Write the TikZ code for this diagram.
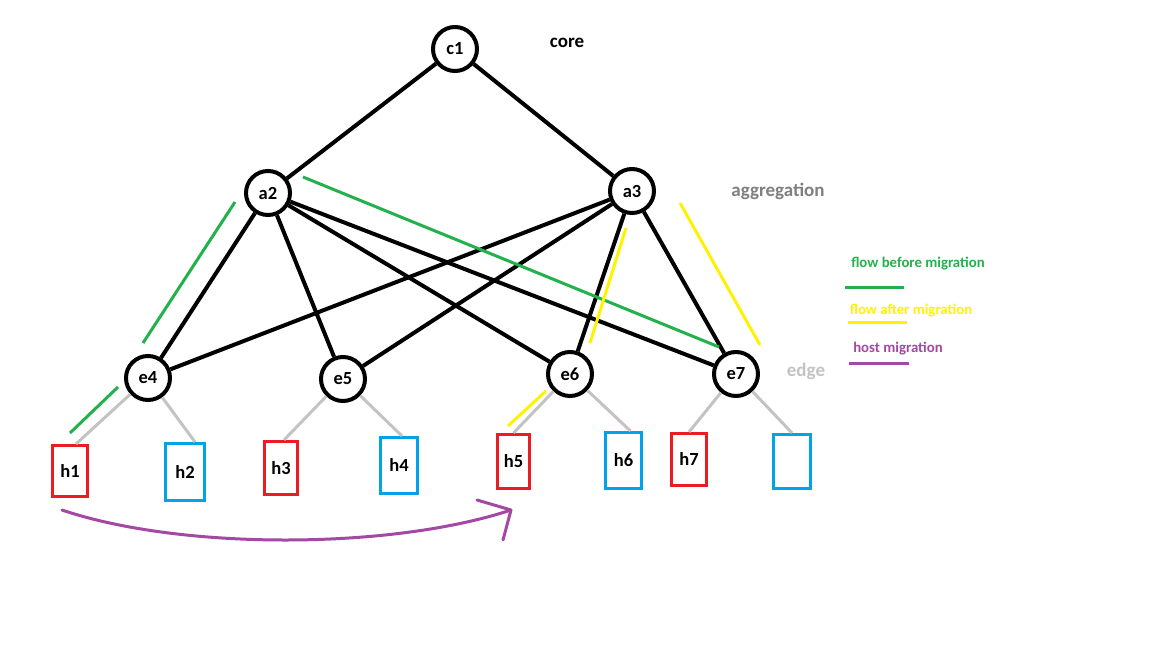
\documentclass[tikz,border=0pt]{standalone}
\usepackage{fontspec}
\setmainfont{Carlito}
\definecolor{pgreen}{HTML}{22B14C}
\definecolor{pyellow}{HTML}{FFF200}
\definecolor{pred}{HTML}{ED1C24}
\definecolor{pblue}{HTML}{00A2E8}
\definecolor{pgray}{HTML}{C3C3C3}
\definecolor{pdgray}{HTML}{7F7F7F}
\definecolor{ppurple}{HTML}{A349A4}
\begin{document}
\begin{tikzpicture}[x=1pt,y=-1pt,
  sw/.style={circle,draw=black,line width=4pt,minimum size=44pt,inner sep=0pt,font=\fontsize{18.5}{18.5}\selectfont\bfseries},
  hostr/.style={rectangle,draw=pred,line width=3pt,inner sep=0pt,font=\fontsize{18.5}{18.5}\selectfont\bfseries},
  hostb/.style={rectangle,draw=pblue,line width=3pt,inner sep=0pt,font=\fontsize{18.5}{18.5}\selectfont\bfseries},
  link/.style={line width=4pt,black},
  hlink/.style={line width=3pt,pgray},
  ann/.style={line width=3pt},
  lbl/.style={font=\fontsize{19}{19}\selectfont\bfseries,inner sep=0pt},
  leg/.style={font=\fontsize{14.8}{14.8}\selectfont\bfseries,inner sep=0pt}]
\useasboundingbox (0,0) rectangle (1152,648);
\fill[white] (0,0) rectangle (1152,648);

% switches
\node[sw] (c1) at (455,49) {c1};
\node[sw] (a2) at (268,193) {a2};
\node[sw] (a3) at (632,191) {a3};
\node[sw] (e4) at (148,378) {e4};
\node[sw] (e5) at (343,379) {e5};
\node[sw] (e6) at (570,374) {e6};
\node[sw] (e7) at (736,374) {e7};

% hosts
\node[hostr,minimum width=35pt,minimum height=51pt,text width=35pt,align=center] (h1) at (70,471) {h1\hspace*{3pt}};
\node[hostb,minimum width=39pt,minimum height=57pt] (h2) at (185,472) {h2};
\node[hostr,minimum width=33pt,minimum height=53pt] (h3) at (281,468) {h3};
\node[hostb,minimum width=37pt,minimum height=56pt] (h4) at (399,465.5) {h4};
\node[hostr,minimum width=32pt,minimum height=54pt,text width=32pt,align=center] (h5) at (513.5,461.5) {h5\hspace*{3pt}};
\node[hostb,minimum width=36pt,minimum height=56pt] (h6) at (623.5,460.5) {h6};
\node[hostr,minimum width=35pt,minimum height=52pt,text width=35pt,align=center] (h7) at (689,459.5) {h7\hspace*{6pt}};
\node[hostb,minimum width=37pt,minimum height=54pt] (h8) at (792,461.5) {};

% core/aggregation links
\draw[link] (c1) -- (a2);
\draw[link] (c1) -- (a3);
\draw[link] (a2) -- (e4);
\draw[link] (a2) -- (e5);
\draw[link] (a2) -- (e6);
\draw[link] (a2) -- (e7);
\draw[link] (a3) -- (e4);
\draw[link] (a3) -- (e5);
\draw[link] (a3) -- (e6);
\draw[link] (a3) -- (e7);

% host links
\draw[hlink] (e4) -- ([xshift=6pt]h1.north);
\draw[hlink] (e4) -- ([xshift=10pt]h2.north);
\draw[hlink] (e5) -- ([xshift=3pt]h3.north);
\draw[hlink] (e5) -- ([xshift=3pt]h4.north);
\draw[hlink] (e6) -- (h5.north);
\draw[hlink] (e6) -- ([xshift=7pt]h6.north);
\draw[hlink] (e7) -- (h7.north);
\draw[hlink] (e7) -- (h8.north);

% flow before migration (green)
\coordinate (g1a) at (235,202); \coordinate (g1b) at (143,343);
\coordinate (g2a) at (303,177); \coordinate (g2b) at (719,347);
\coordinate (g3a) at (118,387); \coordinate (g3b) at (70,433);
\draw[ann,pgreen] (g1a) -- (g1b);
\draw[ann,pgreen] (g2a) -- (g2b);
\draw[ann,pgreen] (g3a) -- (g3b);

% flow after migration (yellow)
\coordinate (y1a) at (626,228); \coordinate (y1b) at (590,343);
\coordinate (y2a) at (680,203); \coordinate (y2b) at (760,345);
\coordinate (y3a) at (546,391); \coordinate (y3b) at (508,426);
\draw[ann,pyellow] (y1a) -- (y1b);
\draw[ann,pyellow] (y2a) -- (y2b);
\draw[ann,pyellow] (y3a) -- (y3b);

% host migration (purple)
\coordinate (m0) at (62,510);
\coordinate (m1) at (511,510);
\coordinate (m2) at (477,500);
\coordinate (m3) at (503,540);
\draw[ann,ppurple,line cap=round] (m0) .. controls (180,550) and (390,550) .. (m1);
\draw[ann,ppurple,line cap=round,line join=round] (m2) -- (m1) -- (m3);

% level labels
\node[lbl,black] (core) at (567,43) {core};
\node[lbl,pdgray] (aggr) at (778,191) {aggregation};
\node[lbl,pgray] (edge) at (806,371) {edge};

% legend
\node[leg,pgreen] (l1) at (918,264) {flow before migration};
\coordinate (l1a) at (845,287); \coordinate (l1b) at (904,287);
\draw[ann,pgreen] (l1a) -- (l1b);
\node[leg,pyellow] (l2) at (911,311) {flow after migration};
\coordinate (l2a) at (848,322); \coordinate (l2b) at (907,322);
\draw[ann,pyellow] (l2a) -- (l2b);
\node[leg,ppurple] (l3) at (898,349) {host migration};
\coordinate (l3a) at (849,363); \coordinate (l3b) at (909,363);
\draw[ann,ppurple] (l3a) -- (l3b);
\end{tikzpicture}
\end{document}
